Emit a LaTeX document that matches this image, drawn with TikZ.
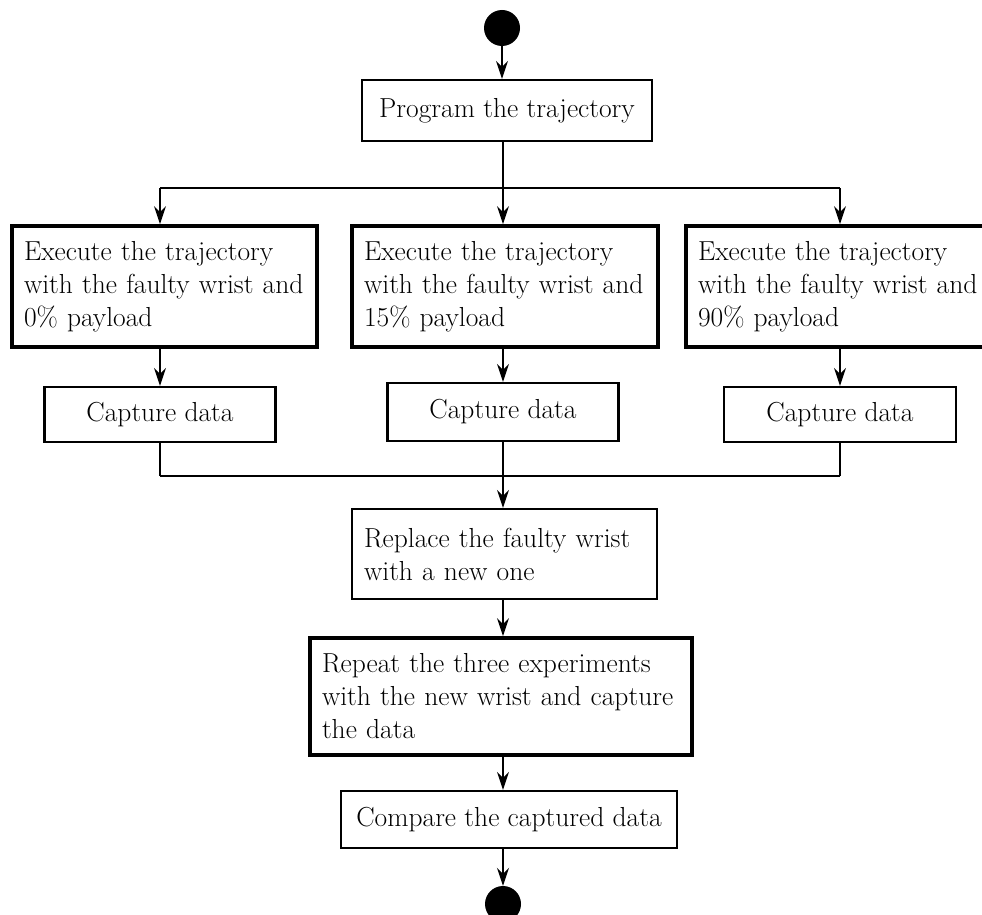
\documentclass[tikz,border=0pt]{standalone}
\usetikzlibrary{arrows.meta}

\tikzset{
  flow/.style={line width=1.2pt, -{Stealth[length=18pt, width=12pt, inset=6pt]}},
  link/.style={line width=1.2pt},
  actbox/.style={draw, line width=2.2pt, inner xsep=12pt, inner ysep=4pt,
    align=left, font=\fontsize{27.5}{33}\selectfont},
  bigbox/.style={actbox, line width=3.8pt},
  endpoint/.style={circle, fill, inner sep=0pt, minimum size=36pt},
}

\begin{document}
\begin{tikzpicture}[x=1pt, y=-1pt]
  \useasboundingbox (0, 0) rectangle (982, 915);
  \clip (0, 0) rectangle (982, 915);

  \node[endpoint] (start) at (502, 28) {};
  \node[actbox, minimum width=290pt, minimum height=61pt] (prog) at (507, 110.5)
    {Program the trajectory};

  % three runs with the faulty wrist
  \node[bigbox, text width=281pt, minimum height=121pt] (exA) at (164.5, 286.5)
    {Execute the trajectory\\with the faulty wrist and\\0\% payload};
  \node[bigbox, text width=282pt, minimum height=121pt] (exB) at (505, 286.5)
    {Execute the trajectory\\with the faulty wrist and\\15\% payload};
  \node[bigbox, text width=282pt, minimum height=121pt] (exC) at (839, 286.5)
    {Execute the trajectory\\with the faulty wrist and\\90\% payload};

  \node[actbox, minimum width=231pt, minimum height=55pt] (capA) at (160, 414.5) {Capture data};
  \node[actbox, minimum width=231pt, minimum height=58pt] (capB) at (503, 412) {Capture data};
  \node[actbox, minimum width=232pt, minimum height=55pt] (capC) at (840, 414.5) {Capture data};

  \node[actbox, text width=281pt, minimum height=90pt] (replace) at (504.5, 554)
    {Replace the faulty wrist\\with a new one};
  \node[bigbox, text width=358pt, minimum height=117pt] (again) at (501, 696.5)
    {Repeat the three experiments\\with the new wrist and capture\\the data};
  \node[actbox, minimum width=336pt, minimum height=57pt] (compare) at (509, 819.5)
    {Compare the captured data};
  \node[endpoint] (stop) at (503, 904) {};

  \coordinate (split) at (503, 188);
  \coordinate (merge) at (503, 476);

  \draw[flow] (start) -- (start |- prog.north);
  \draw[link] (prog.south -| split) -- (split);
  \draw[link] (split -| capA) -- (split -| capC);
  \foreach \n in {A, B, C} {
    \draw[flow] (split -| cap\n) -- (cap\n |- ex\n.north);
    \draw[flow] (ex\n.south -| cap\n) -- (cap\n.north);
    \draw[link] (cap\n.south) -- (cap\n.south |- merge);
  }
  \draw[link] (merge -| capA) -- (merge -| capC);
  \draw[flow] (merge) -- (merge |- replace.north);
  \draw[flow] (replace.south -| merge) -- (merge |- again.north);
  \draw[flow] (again.south -| merge) -- (merge |- compare.north);
  \draw[flow] (compare.south -| merge) -- (stop);
\end{tikzpicture}
\end{document}
